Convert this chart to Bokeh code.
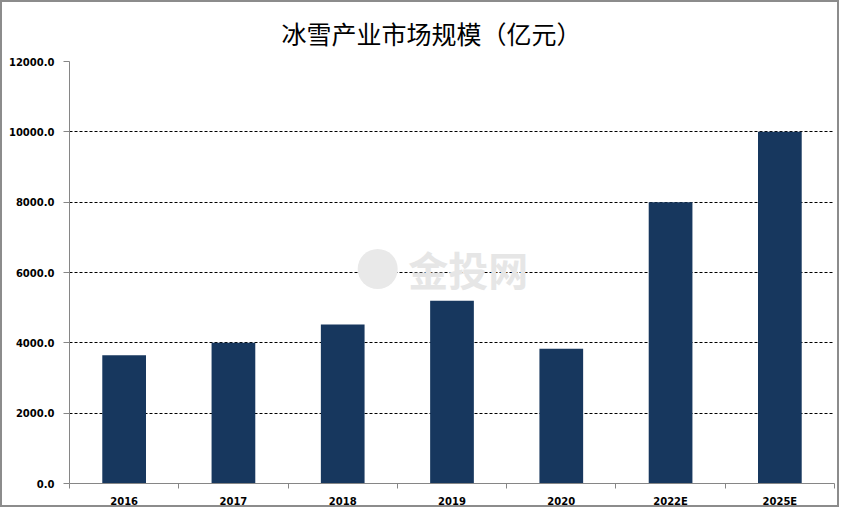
from bokeh.plotting import figure
from bokeh.models import ColumnDataSource, FixedTicker, NumeralTickFormatter, Range1d, Label
from bokeh.embed import file_html
from bokeh.resources import INLINE

categories = ["2016", "2017", "2018", "2019", "2020", "2022E", "2025E"]
values = [3650, 4000, 4520, 5200, 3830, 8000, 10000]
y_ticks = [0, 2000, 4000, 6000, 8000, 10000, 12000]

title = "冰雪产业市场规模（亿元）"
bar_color = "#17375E"

xs = [i + 0.5 for i in range(len(categories))]
src = ColumnDataSource(dict(x=xs, top=values, cat=categories))

W, H = 839, 507
p = figure(width=W, height=H, output_backend="svg", toolbar_location=None,
           x_range=Range1d(0, len(categories)), y_range=Range1d(0, 12000),
           min_border_left=67, min_border_right=7, min_border_top=57, min_border_bottom=21)
p.styles = {"border": "2px solid #8c8c8c"}
p.outline_line_color = None
p.background_fill_color = "white"
p.border_fill_color = "white"

p.title.text = title
p.title.align = "left"
p.title.offset = 212
p.title.text_font = "Noto Sans CJK SC"
p.title.text_font_size = "25px"
p.title.text_font_style = "normal"
p.title.text_color = "#000000"
p.title.standoff = 21

p.vbar(x="x", top="top", width=0.4, source=src, color=bar_color, line_color=None)

# watermark
p.scatter(x=[2.82], y=[6100], size=40, color="#e9e9e9", line_color=None, marker="circle")
p.add_layout(Label(x=3.1, y=6100, text="金投网", text_font="Noto Sans CJK SC",
                   text_font_size="40px", text_font_style="bold", text_color="#e6e6e6",
                   text_baseline="middle", text_align="left"))

# x axis
xa = p.xaxis[0]
xa.ticker = FixedTicker(ticks=xs, minor_ticks=list(range(len(categories) + 1)))
xa.major_label_overrides = {x: c for x, c in zip(xs, categories)}
xa.major_tick_line_color = None
xa.minor_tick_line_color = "#868686"
xa.minor_tick_out = 5
xa.minor_tick_in = 0
xa.axis_line_color = "#868686"
xa.major_label_text_font = "DejaVu Sans"
xa.major_label_text_font_style = "bold"
xa.major_label_text_font_size = "10px"
xa.major_label_text_color = "#000000"
xa.major_label_standoff = 6

ya = p.yaxis[0]
ya.ticker = FixedTicker(ticks=y_ticks, minor_ticks=[])
ya.formatter = NumeralTickFormatter(format="0.0")
ya.axis_line_color = "#868686"
ya.major_tick_line_color = "#868686"
ya.major_tick_out = 6
ya.major_tick_in = 0
ya.minor_tick_line_color = None
ya.major_label_text_font = "DejaVu Sans"
ya.major_label_text_font_style = "bold"
ya.major_label_text_font_size = "10px"
ya.major_label_text_color = "#000000"
ya.major_label_standoff = 9

p.xgrid.grid_line_color = None
p.ygrid.ticker = FixedTicker(ticks=y_ticks[1:])
p.ygrid.grid_line_color = "#000000"
p.ygrid.grid_line_dash = "3 2"
p.ygrid.grid_line_width = 1

open("out.html", "w").write(file_html(p, INLINE))
